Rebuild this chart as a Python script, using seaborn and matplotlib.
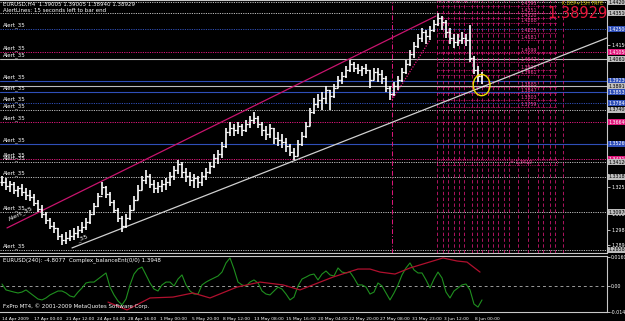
import numpy as np
import pandas as pd
import matplotlib
matplotlib.use("Agg")
import matplotlib.pyplot as plt
import matplotlib.transforms as mtransforms
from matplotlib.patches import Ellipse, Rectangle
import seaborn as sns

# ---------------- data (EURUSD H4) ----------------
highs = [1.3324,1.3312,1.3293,1.3286,1.3261,1.3274,1.3249,1.3236,1.3211,1.3173,
         1.3142,1.3097,1.3060,1.3034,1.2997,1.2959,1.2971,1.2984,1.2997,1.3009,
         1.3034,1.3060,1.3110,1.3154,1.3217,1.3286,1.3261,1.3223,1.3173,1.3123,
         1.3072,1.3085,1.3142,1.3198,1.3268,1.3324,1.3362,1.3337,1.3299,1.3286,
         1.3299,1.3312,1.3349,1.3387,1.3425,1.3412,1.3375,1.3349,1.3337,1.3324,
         1.3349,1.3375,1.3412,1.3463,1.3488,1.3538,1.3627,1.3664,1.3652,1.3664,
         1.3652,1.3677,1.3702,1.3727,1.3702,1.3664,1.3639,1.3652,1.3627,1.3601,
         1.3589,1.3564,1.3526,1.3501,1.3551,1.3601,1.3664,1.3753,1.3816,1.3841,
         1.3853,1.3891,1.3866,1.3904,1.3954,1.3979,1.4017,1.4055,1.4042,1.4030,
         1.4017,1.4030,1.3992,1.4005,1.4005,1.3992,1.3954,1.3891,1.3916,1.3954,
         1.4005,1.4055,1.4118,1.4168,1.4219,1.4257,1.4244,1.4269,1.4307,1.4351,
         1.4332,1.4307,1.4257,1.4219,1.4219,1.4231,1.4219,1.4276,1.4080,1.4017,
         1.3979]
lows = [1.3261,1.3236,1.3223,1.3211,1.3192,1.3198,1.3173,1.3167,1.3135,1.3097,
        1.3060,1.3022,1.2990,1.2965,1.2921,1.2890,1.2896,1.2915,1.2921,1.2934,
        1.2965,1.2984,1.3022,1.3078,1.3129,1.3205,1.3186,1.3135,1.3091,1.3034,
        1.2971,1.2997,1.3047,1.3110,1.3173,1.3236,1.3274,1.3249,1.3217,1.3217,
        1.3223,1.3236,1.3261,1.3299,1.3337,1.3312,1.3286,1.3261,1.3249,1.3249,
        1.3261,1.3299,1.3337,1.3375,1.3400,1.3438,1.3501,1.3576,1.3576,1.3589,
        1.3576,1.3601,1.3627,1.3652,1.3627,1.3576,1.3551,1.3564,1.3526,1.3513,
        1.3501,1.3475,1.3450,1.3425,1.3450,1.3513,1.3564,1.3639,1.3715,1.3753,
        1.3740,1.3778,1.3740,1.3816,1.3879,1.3904,1.3942,1.3979,1.3979,1.3967,
        1.3954,1.3967,1.3879,1.3929,1.3916,1.3904,1.3853,1.3803,1.3828,1.3866,
        1.3916,1.3967,1.4017,1.4068,1.4131,1.4168,1.4156,1.4181,1.4231,1.4269,
        1.4244,1.4194,1.4156,1.4131,1.4143,1.4156,1.4143,1.4042,1.3967,1.3916,
        1.3904]
closes = [1.3286,1.3261,1.3274,1.3236,1.3249,1.3223,1.3205,1.3192,1.3154,1.3116,
          1.3085,1.3047,1.3009,1.2997,1.2946,1.2921,1.2934,1.2946,1.2965,1.2984,
          1.3003,1.3034,1.3085,1.3135,1.3198,1.3255,1.3211,1.3160,1.3110,1.3060,
          1.3009,1.3060,1.3110,1.3173,1.3236,1.3299,1.3324,1.3274,1.3249,1.3261,
          1.3274,1.3286,1.3324,1.3362,1.3400,1.3349,1.3324,1.3299,1.3312,1.3286,
          1.3324,1.3349,1.3387,1.3438,1.3463,1.3513,1.3601,1.3627,1.3614,1.3639,
          1.3614,1.3652,1.3677,1.3690,1.3652,1.3614,1.3589,1.3627,1.3564,1.3551,
          1.3538,1.3513,1.3475,1.3450,1.3526,1.3576,1.3639,1.3727,1.3778,1.3803,
          1.3816,1.3866,1.3828,1.3879,1.3929,1.3954,1.3992,1.4030,1.4005,1.3992,
          1.4005,1.3992,1.3929,1.3979,1.3967,1.3942,1.3879,1.3841,1.3891,1.3929,
          1.3979,1.4030,1.4093,1.4143,1.4194,1.4231,1.4206,1.4244,1.4282,1.4320,
          1.4294,1.4231,1.4194,1.4168,1.4181,1.4194,1.4181,1.4068,1.3992,1.3954,
          1.3893]

# oscillator (green) per bar
oscillator = [0.0011,-0.0022,-0.0028,-0.0034,-0.0039,-0.0034,-0.0022,-0.0039,-0.0056,-0.0073,
              -0.0078,-0.0067,-0.0050,-0.0039,-0.0028,-0.0028,-0.0039,-0.0056,-0.0062,-0.0034,
              -0.0011,0.0017,0.0022,0.0022,0.0039,0.0056,0.0073,-0.0006,-0.0050,-0.0084,
              -0.0106,-0.0073,0.0006,0.0067,0.0095,0.0106,0.0062,0.0017,-0.0017,-0.0028,
              0.0006,0.0022,0.0022,0.0000,0.0039,0.0062,0.0006,-0.0028,-0.0045,-0.0045,
              0.0006,0.0022,0.0034,0.0045,0.0056,0.0078,0.0129,0.0157,0.0095,0.0022,
              0.0006,0.0000,0.0022,0.0034,0.0017,-0.0028,-0.0045,-0.0050,-0.0028,-0.0006,
              -0.0017,-0.0045,-0.0078,-0.0062,0.0000,0.0039,0.0050,0.0062,0.0067,0.0034,
              0.0067,0.0084,0.0062,0.0056,0.0101,0.0078,0.0073,0.0078,0.0045,0.0006,
              0.0006,-0.0006,-0.0045,-0.0034,0.0017,0.0000,-0.0039,-0.0078,-0.0039,0.0006,
              0.0062,0.0101,0.0129,0.0090,0.0073,0.0073,0.0034,-0.0011,0.0039,0.0078,
              0.0045,-0.0034,-0.0067,-0.0028,-0.0011,0.0006,0.0011,-0.0022,-0.0101,-0.0118,
              -0.0078]

# signal line (red) vertices: bar position and value
signal_bar = [26.5, 31.25, 37, 42.75, 47.75, 52, 58.75, 64.5, 70.25, 74.5,
              82.75, 89, 92, 94.5, 98.25, 102, 110.25, 113.75, 116.25, 119.5]
signal_val = [-0.0090, -0.0134, -0.0067, -0.0062, -0.0039, -0.0067, -0.0006, 0.0022, 0.0006, -0.0022,
              0.0050, 0.0095, 0.0095, 0.0078, 0.0067, 0.0101, 0.0157, 0.0140, 0.0134, 0.0078]

# horizontal alert lines
level_prices = [1.4420, 1.4351, 1.4250, 1.4105, 1.4061, 1.3923, 1.3891, 1.3853, 1.3784,
                1.3740, 1.3664, 1.3526, 1.3431, 1.3412, 1.3318, 1.3097, 1.2858]
level_kinds = ["gray", "gray", "navy", "magenta", "gray", "navy", "gray", "navy", "navy",
               "gray", "magenta", "navy", "magenta", "gray", "gray", "gray", "gray"]
level_solid = [False, False, False, False, True, True, True, True, False,
               False, False, True, False, False, False, False, False]
level_alert = [False, False, True, True, True, True, False, True, True,
               True, True, True, True, True, True, True, True]

# channel / trend lines: (bar0, price0, bar1, price1)
upper_channel = [1.25, 1.2997, 108.5, 1.4332]
lower_channel = [17.5, 1.2871, 151.25, 1.4194]
rally_line = [97.5, 1.3803, 107.0, 1.4181]

# magenta projection grid at the right
grid_bars = [108.75, 110.25, 111.5, 113, 114.25, 115.5, 117.5, 118.75, 120, 121.5,
             122.75, 124, 125.5, 126.75, 129, 131.5, 134, 135.25, 137, 138.25, 140.25]
grid_rows = [1.4395, 1.4351, 1.4320, 1.4288, 1.4225, 1.4181, 1.4099, 1.4042,
             1.3992, 1.3961, 1.3885, 1.3847, 1.3803, 1.3759]
event_bar = 97.5

price_ticks = [1.4150, 1.3255, 1.3085, 1.2984, 1.2890]
osc_ticks = [0.0160, 0.0, -0.0145]
osc_tick_labels = ["0.0160", "0.00", "-0.0145"]

date_labels = ["14 Apr 2009", "17 Apr 00:00", "21 Apr 12:00", "24 Apr 04:00", "28 Apr 16:00",
               "1 May 00:00", "5 May 20:00", "8 May 12:00", "13 May 08:00", "15 May 16:00",
               "20 May 04:00", "22 May 20:00", "27 May 08:00", "31 May 23:00", "3 Jun 12:00",
               "8 Jun 00:00"]

last_price = "1.38929"

# ---------------- style ----------------
sns.set_theme(style="dark")
plt.rcParams["font.family"] = ["DejaVu Sans"]
plt.rcParams["axes.facecolor"] = "black"
plt.rcParams["figure.facecolor"] = "black"

COL = {"gray": "#bdbdbd", "navy": "#2f4fb8", "magenta": "#e0187c"}
TXT = {"gray": "black", "navy": "white", "magenta": "white"}
FS = 4.0
FS_AX = 3.4

W, H = 625, 321
fig = plt.figure(figsize=(W / 100, H / 100), dpi=100, facecolor="black")
ax = fig.add_axes([0, 1 - 253 / H, 607 / W, 253 / H])
ax2 = fig.add_axes([0, 1 - 312 / H, 607 / W, 56 / H])

for a in (ax, ax2):
    a.set_facecolor("black")
    a.grid(False)
    for s in a.spines.values():
        s.set_color("#c8c8c8")
        s.set_linewidth(0.8)
    a.spines["left"].set_visible(False)
    a.set_xlim(-0.5, 151.25)

ax.set_ylim(1.28391, 1.4433)
ax2.set_ylim(-0.01456, 0.0168)

bars = np.arange(len(closes))
opens = [closes[0]] + closes[:-1]
df = pd.DataFrame({"bar": bars, "high": highs, "low": lows, "close": closes,
                   "open": opens, "osc": oscillator})

# horizontal alert lines
blend = mtransforms.blended_transform_factory(ax.transAxes, ax.transData)
for p, k, solid, alert in zip(level_prices, level_kinds, level_solid, level_alert):
    ax.axhline(p, color=COL[k], lw=0.8 if solid else 0.7,
               ls="-" if solid else (0, (1.2, 1.2)), zorder=1)
    if alert:
        ax.annotate("Alert_35", (0.3, p), xytext=(0, 0.5), textcoords="offset points",
                    color="white", fontsize=FS, va="bottom", ha="left", zorder=5)
    ax.text(1.003, p, f"{p:.5f}", transform=blend, fontsize=FS_AX, color=TXT[k],
            va="center", ha="left", clip_on=False,
            bbox=dict(boxstyle="square,pad=0.12", fc=COL[k], ec="none"))

# magenta projection grid
ax.vlines(grid_bars, 1.28391, 1.4433, colors=COL["magenta"], lw=0.6,
          linestyles=(0, (4, 3)), zorder=1, alpha=0.9)
ax.vlines([event_bar], 1.28391, 1.4433, colors=COL["magenta"], lw=0.7,
          linestyles=(0, (5, 2, 1, 2)), zorder=1)
ax.hlines(grid_rows, grid_bars[0], 138.75, colors=COL["magenta"], lw=0.6,
          linestyles=(0, (1, 1)), zorder=1)
for r in grid_rows:
    ax.text(129.5, r, f"{r:.4f}", fontsize=3.4, color="#ff40a0", va="bottom",
            ha="left", zorder=2)
ax.text(109, 1.4405, "+ - + - + - + - + -", fontsize=3.4, color="#ff40a0", va="bottom", zorder=2)
ax.add_patch(Rectangle((grid_bars[0], 1.3395), 138.75 - grid_bars[0], 0.0030,
                       fill=False, ec=COL["magenta"], lw=0.6, ls=":", zorder=2))
ax.text(127, 1.3410, "= 1.3410", fontsize=3.4, color="#ff40a0", va="center", zorder=2)

# channels
ax.plot(upper_channel[0::2], upper_channel[1::2], color="#c8146e", lw=0.9, zorder=2)
ax.plot(lower_channel[0::2], lower_channel[1::2], color="#d0d0d0", lw=0.9, zorder=2)
ax.plot(rally_line[0::2], rally_line[1::2], color=COL["magenta"], lw=0.9, ls=(0, (1, 1.2)), zorder=2)
ax.text(1.3, 1.3035, "Alert_35", rotation=26, fontsize=FS + 0.6, color="white",
        ha="left", va="bottom", zorder=5)
ax.text(18.5, 1.2905, "_35", rotation=21, fontsize=FS + 0.6, color="white",
        ha="left", va="bottom", zorder=5)

# OHLC bars
ax.vlines(df["bar"], df["low"], df["high"], colors="white", lw=1.2, zorder=4)
ax.hlines(df["open"], df["bar"] - 0.6, df["bar"], colors="white", lw=0.9, zorder=4)
ax.hlines(df["close"], df["bar"], df["bar"] + 0.6, colors="white", lw=0.9, zorder=4)

# current bar circle
ax.add_patch(Ellipse((119.9, 1.3897), 4.2, 0.0133, fill=False, ec="#f0e000", lw=1.0, zorder=6))

# price axis
ax.yaxis.tick_right()
ax.set_yticks(price_ticks)
ax.set_yticklabels([f"{v:.5f}" for v in price_ticks])
ax.tick_params(axis="y", colors="white", labelsize=FS_AX, length=2, pad=1, width=0.5)
ax.tick_params(axis="x", bottom=False, labelbottom=False)
ax.set_xlabel("")
ax.set_ylabel("")

# indicator panel
ax2.axhline(0, color="#9a9a9a", lw=0.7, ls=(0, (3, 3)), zorder=1)
sns.lineplot(data=df, x="bar", y="osc", ax=ax2, color="#1f8f1f", lw=0.8, zorder=3)
sig = pd.DataFrame({"bar": signal_bar, "val": signal_val})
sns.lineplot(data=sig, x="bar", y="val", ax=ax2, color="#b0102e", lw=0.9, zorder=3,
             sort=False)
ax2.set_xlabel("")
ax2.set_ylabel("")
ax2.yaxis.tick_right()
ax2.set_yticks(osc_ticks)
ax2.set_yticklabels(osc_tick_labels)
ax2.tick_params(axis="y", colors="white", labelsize=FS_AX, length=2, pad=1, width=0.5)
date_pos = [0] + [8 + 7.875 * k for k in range(len(date_labels) - 1)]
ax2.set_xticks(date_pos)
ax2.set_xticklabels(date_labels)
ax2.tick_params(axis="x", colors="white", labelsize=3.2, length=2.5, pad=0.8,
                width=0.5, direction="out")
for lab in ax2.get_xticklabels():
    lab.set_horizontalalignment("left")

# overlay texts
def ftext(x, y, s, **kw):
    fig.text(x / W, 1 - y / H, s, va="top", ha="left", **kw)

ftext(3, 1.5, "EURUSD,H4  1.39005 1.39005 1.38940 1.38929", color="white", fontsize=FS)
ftext(3, 8, "AlertLines: 15 seconds left to bar end", color="white", fontsize=FS)
ftext(562, 1, "K.DEP+15H TRFE", color="#d8c800", fontsize=3.4)
ftext(547, 6.5, last_price, color="#e8163c", fontsize=10.5)
ftext(3, 257.5, "EURUSD(240): -4.8077  Complex_balanceEnt(0/0) 1.3948", color="white", fontsize=FS)
ftext(3, 303.5, "FxPro MT4, \u00a9 2001-2009 MetaQuotes Software Corp.", color="white", fontsize=FS)

fig.savefig("out.png", dpi=100, facecolor="black")
